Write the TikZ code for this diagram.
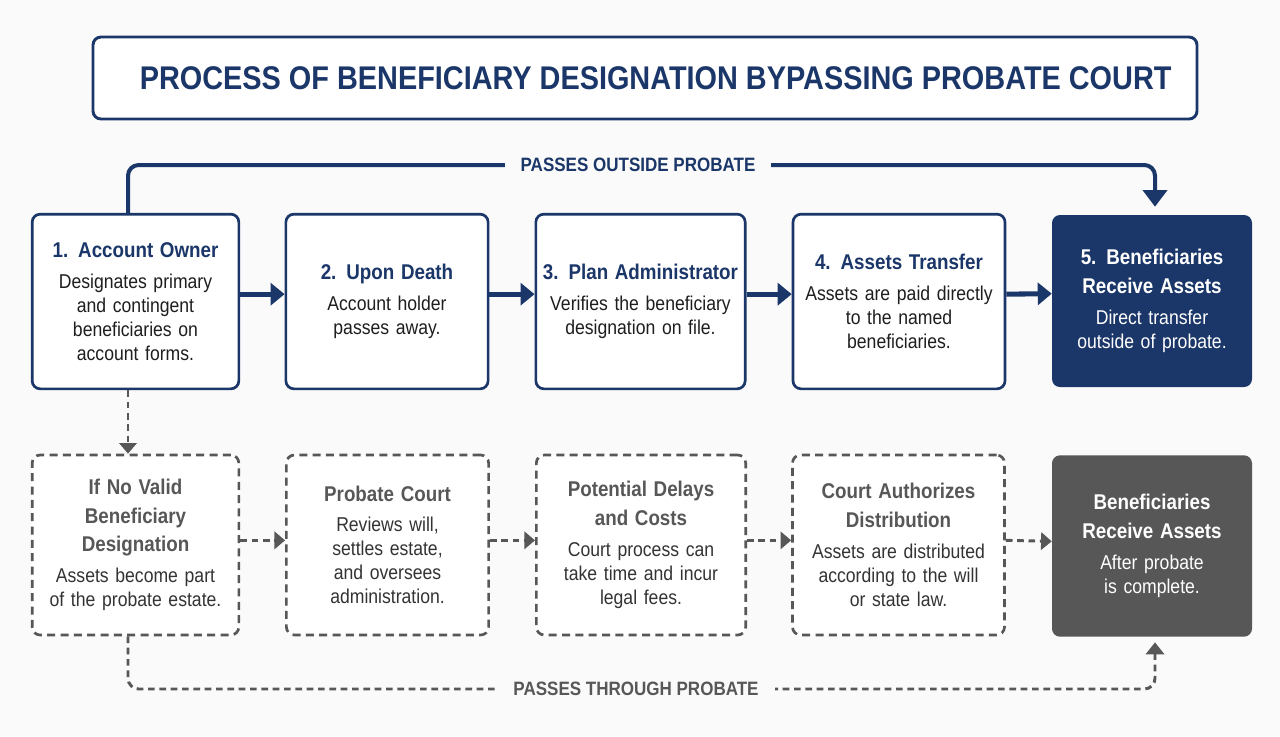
\documentclass[tikz,border=0pt]{standalone}
\usepackage{fontspec}
\setmainfont{Liberation Sans}[FakeStretch=0.88]
\usetikzlibrary{arrows.meta}
\definecolor{navy}{HTML}{1B3668}
\definecolor{slate}{HTML}{575757}
\definecolor{ink}{HTML}{1E1E1E}
\definecolor{greyink}{HTML}{333333}
\definecolor{paper}{HTML}{FAFAFA}
\newcommand{\hd}[2]{{\fontsize{16}{21.5}\selectfont\bfseries\color{#1}#2\par}\vspace{5pt}}
\newcommand{\bd}{\fontsize{15}{18}\selectfont\hyphenpenalty=10000}
\tikzstyle{titlebox} = [rectangle, rounded corners=6pt, draw=navy, line width=2.2pt, fill=white, minimum width=828pt, minimum height=61.5pt, text=navy, font=\fontsize{24.6}{28}\selectfont\bfseries]
\tikzstyle{navybox} = [rectangle, rounded corners=6pt, draw=navy, line width=2pt, fill=white, minimum height=131pt, text width=145pt, align=center, text=ink, font=\bd]
\tikzstyle{finalbox} = [rectangle, rounded corners=6pt, fill=navy, minimum height=129pt, minimum width=150pt, text width=140pt, align=center, text=white, font=\bd]
\tikzstyle{dashbox} = [rectangle, rounded corners=6pt, draw=slate, line width=2pt, dash pattern=on 6pt off 4pt, fill=white, minimum height=135pt, text width=145pt, align=center, text=greyink, font=\bd]
\tikzstyle{greybox} = [rectangle, rounded corners=6pt, fill=slate, minimum height=136pt, minimum width=150pt, text width=140pt, align=center, text=white, font=\bd]
\tikzstyle{arrow} = [navy, line width=3.8pt, -{Triangle[length=10.5pt,width=16.5pt]}]
\tikzstyle{dasharrow} = [slate, line width=2.2pt, dash pattern=on 5pt off 3.5pt, -{Triangle[length=8pt,width=13pt]}]
\tikzstyle{outloop} = [navy, line width=3pt, rounded corners=8pt, -{Triangle[length=12.5pt,width=18pt]}, shorten >=6pt]
\tikzstyle{thruloop} = [slate, line width=2.2pt, dash pattern=on 5pt off 3.5pt, rounded corners=8pt, -{Triangle[length=9pt,width=13.5pt]}, shorten >=4pt]
\tikzstyle{looplabel} = [fill=paper, inner xsep=12pt, font=\fontsize{14.5}{16}\selectfont\bfseries]

\begin{document}
\begin{tikzpicture}[x=0.75pt,y=-0.75pt]
\fill[paper] (0,0) rectangle (1280,736);
\useasboundingbox (0,0) rectangle (1280,736);

\node (title) [titlebox] at (645,78) {\hspace*{16pt}PROCESS OF BENEFICIARY DESIGNATION BYPASSING PROBATE COURT};

\node (owner) [navybox, minimum width=155pt] at (135.5,301.5) {\hd{navy}{1. Account Owner}\bd Designates primary\\and contingent\\beneficiaries on\\account forms.\par};
\node (death) [navybox, minimum width=147pt] at (387,301.5) {\hd{navy}{2. Upon Death}\bd Account holder\\passes away.\par};
\node (admin) [navybox, minimum width=157pt, text width=155pt, inner xsep=0.5pt] at (640.5,301.5) {\hd{navy}{3. Plan Administrator}\bd Verifies the beneficiary\\designation on file.\par};
\node (transfer) [navybox, minimum width=159pt] at (899,301.5) {\hd{navy}{4. Assets Transfer}\bd Assets are paid directly\\to the named\\beneficiaries.\par};
\node (benef) [finalbox] at (1152,301) {\hd{white}{5. Beneficiaries\\Receive Assets}\bd Direct transfer\\outside of probate.\par};

\node (novalid) [dashbox, minimum width=155pt] at (135.5,545) {\hd{slate}{If No Valid\\Beneficiary\\Designation}\bd Assets become part\\of the probate estate.\par};
\node (court) [dashbox, minimum width=147pt] at (387.5,545) {\hd{slate}{Probate Court}\bd Reviews will,\\settles estate,\\and oversees\\administration.\par};
\node (delays) [dashbox, minimum width=157pt] at (641,545) {\hd{slate}{Potential Delays\\and Costs}\bd Court process can\\take time and incur\\legal fees.\par};
\node (authorize) [dashbox, minimum width=159pt] at (898.5,545) {\hd{slate}{Court Authorizes\\Distribution}\bd Assets are distributed\\according to the will\\or state law.\par};
\node (after) [greybox] at (1152,546) {\hd{white}{Beneficiaries\\Receive Assets}\bd After probate\\is complete.\par};

\draw [arrow] ([yshift=5.5pt]owner.east) -- ([yshift=5.5pt]death.west);
\draw [arrow] ([yshift=5.5pt]death.east) -- ([yshift=5.5pt]admin.west);
\draw [arrow] ([yshift=5.5pt]admin.east) -- ([yshift=5.5pt]transfer.west);
\draw [arrow] ([yshift=5.5pt]transfer.east) -- ([yshift=5.5pt]benef.west);

\draw [dasharrow] ([yshift=3.5pt]novalid.east) -- ([yshift=3.5pt]court.west);
\draw [dasharrow] ([yshift=3.5pt]court.east) -- ([yshift=3.5pt]delays.west);
\draw [dasharrow] ([yshift=3.5pt]delays.east) -- ([yshift=3.5pt]authorize.west);
\draw [dasharrow] ([yshift=3.5pt]authorize.east) -- ([yshift=3.5pt]after.west);

\coordinate (outL) at (128,165);
\coordinate (outR) at (1155,165);
\draw [outloop] (owner.north -| outL) -- (outL) -- (outR) -- (benef.north -| outR);
\node (outside) [looplabel, text=navy] at (638,165) {PASSES OUTSIDE PROBATE};

\draw [dasharrow] (owner.south -| outL) -- (novalid.north -| outL);

\coordinate (thruL) at (128,689);
\coordinate (thruR) at (1155,689);
\draw [thruloop] (novalid.south -| thruL) -- (thruL) -- (thruR) -- (after.south -| thruR);
\node (through) [looplabel, text=slate] at (636,689) {PASSES THROUGH PROBATE};
\end{tikzpicture}
\end{document}
